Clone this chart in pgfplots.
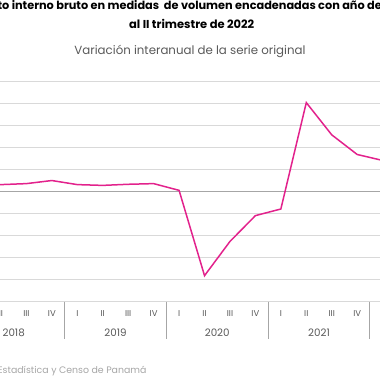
\documentclass[border=0pt]{standalone}
\usepackage{pgfplots}
\pgfplotsset{compat=1.18}
\usepackage{fontspec}
\setmainfont{Poppins}
\definecolor{mag}{HTML}{E2228C}
\definecolor{gridc}{HTML}{D9D9D9}
\definecolor{zeroc}{HTML}{A6A6A6}
\definecolor{labc}{HTML}{595959}
\definecolor{srcc}{HTML}{A6A6A6}
\begin{document}
\begin{tikzpicture}
\useasboundingbox (0,0) rectangle (380pt,380pt);
\clip (0,0) rectangle (380pt,380pt);
\begin{axis}[
  at={(-37.2pt,78.3pt)}, anchor=south west,
  scale only axis, width=458pt, height=220.7pt,
  xmin=-0.5, xmax=17.5, ymin=-50, ymax=50,
  clip=false,
  axis line style={draw=none},
  major tick length=0pt,
  ytick={-50,-40,...,50},
  yticklabels={},
  ymajorgrids, grid style={gridc, line width=0.8pt},
  extra y ticks={0}, extra y tick labels={},
  extra y tick style={grid style={zeroc, line width=0.9pt}},
  xtick={1,...,15},
  xticklabels={II,III,IV,I,II,III,IV,I,II,III,IV,I,II,III,IV},
  xticklabel style={anchor=base, yshift=-15pt, font=\fontsize{8.5}{10}\selectfont, text=labc},
]
\addplot[mag, line width=1.5pt] coordinates {
 (0,3.4) (1,3.05) (2,3.5) (3,4.9) (4,3.05) (5,2.7) (6,3.2) (7,3.5)
 (8,0.45) (9,-38.2) (10,-22.7) (11,-11.0) (12,-8.0) (13,40.2) (14,25.6)
 (15,16.7) (16,14.0)
};
\foreach \s in {3.5,7.5,11.5,15.5} {
  \edef\temp{\noexpand\draw[zeroc, line width=0.9pt] (axis cs:\s,-50) -- ([yshift=-37.6pt]axis cs:\s,-50);}
  \temp
}
\foreach \x/\yr in {1.5/2018,5.5/2019,9.5/2020,13.5/2021} {
  \edef\temp{\noexpand\node[anchor=base, font=\noexpand\fontsize{10.3}{12}\noexpand\selectfont, text=labc] at ([yshift=-35pt]axis cs:\x,-50) {\yr};}
  \temp
}
\end{axis}
\node[anchor=base east, inner sep=0pt, font=\bfseries\fontsize{11.3}{13}\selectfont, text=black] at (382pt,370pt) {Producto interno bruto en medidas \ de volumen encadenadas con año de\rlap{ referencia}};
\node[anchor=base, font=\bfseries\fontsize{11.5}{13}\selectfont, text=black] at (191.7pt,351pt) {al II trimestre de 2022};
\node[anchor=base, font=\fontsize{11.8}{13}\selectfont, text=labc] at (190pt,325pt) {Variación interanual de la serie original};
\node[anchor=base east, font=\fontsize{9.4}{11}\selectfont, text=srcc, inner sep=0pt] at (146.7pt,6pt) {Fuente: Instituto Nacional de Estadística y Censo de Panamá};
\end{tikzpicture}
\end{document}
